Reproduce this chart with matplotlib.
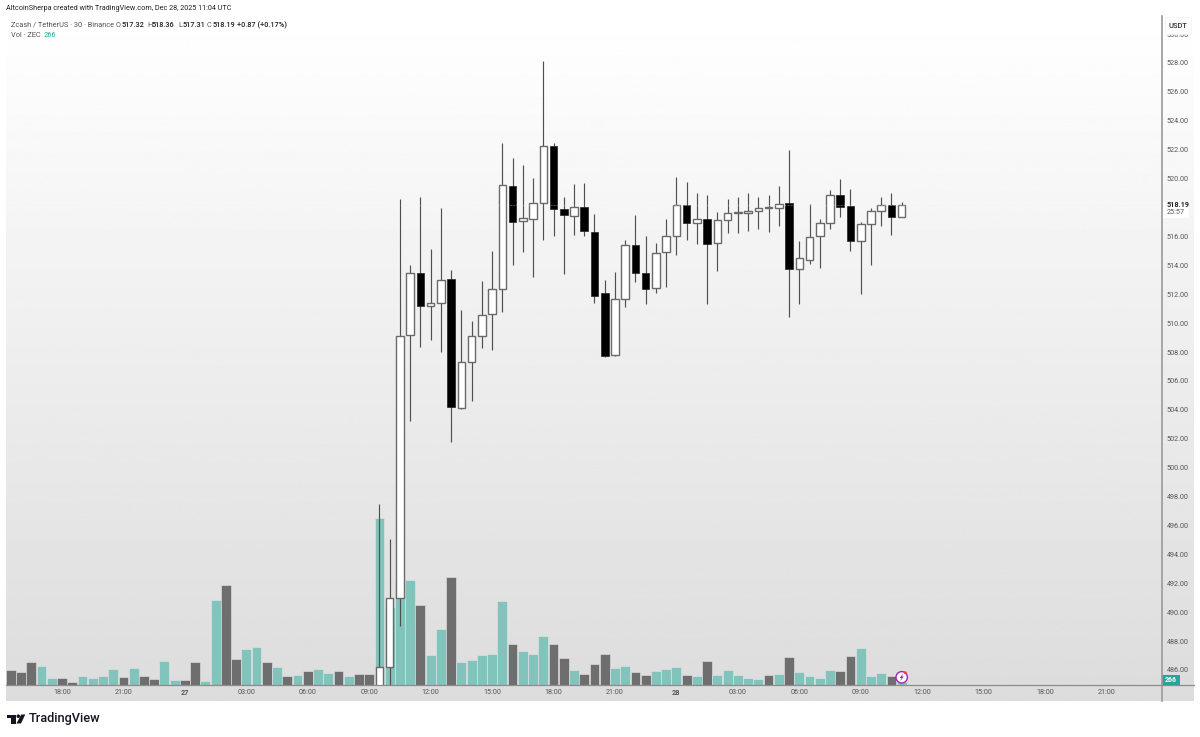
import numpy as np
import matplotlib
matplotlib.use('Agg')
import matplotlib.pyplot as plt
from matplotlib.patches import Circle, Polygon, Rectangle

plt.rcParams['font.family'] = ['Roboto', 'DejaVu Sans']

# first visible candle is bar 36, earlier ones are below the price scale
first_candle = 36
opens = [484.00, 486.21, 490.98, 509.18, 513.47, 511.19, 511.41, 513.07, 504.15, 507.29, 509.09, 510.63, 512.34,
         519.49, 517.07, 517.23, 518.29, 522.24, 517.90, 517.43, 518.06, 516.33, 512.06, 507.80, 511.65, 515.39,
         513.49, 512.40, 514.90, 516.03, 518.17, 516.91, 517.23, 515.52, 517.12, 517.64, 517.64, 517.76, 517.99,
         517.99, 518.31, 513.77, 514.39, 516.03, 516.91, 518.89, 518.11, 515.66, 516.86, 517.78, 518.15, 517.32]
highs = [497.49, 495.06, 518.59, 514.02, 518.73, 515.13, 517.99, 513.68, 510.91, 510.15, 512.89, 514.97, 522.49,
         521.41, 520.92, 520.02, 528.14, 522.49, 518.73, 519.63, 519.72, 517.57, 512.98, 513.56, 515.75, 517.46,
         516.05, 515.52, 517.21, 520.13, 519.75, 519.03, 518.85, 517.69, 518.57, 518.71, 519.03, 518.71, 518.85,
         519.49, 521.98, 515.68, 518.22, 517.18, 519.21, 519.95, 519.26, 517.00, 517.99, 518.71, 518.98, 518.36]
lows = [483.50, 484.50, 489.04, 503.25, 508.35, 508.83, 508.02, 501.78, 504.06, 504.61, 508.30, 508.14, 510.79,
        514.04, 514.90, 513.17, 515.73, 516.05, 513.38, 516.10, 516.05, 511.41, 507.68, 507.75, 511.14, 512.85,
        511.30, 512.11, 512.52, 514.69, 515.75, 515.50, 511.32, 513.63, 516.26, 516.22, 516.40, 516.51, 516.33,
        516.74, 510.40, 511.34, 514.07, 513.79, 516.51, 517.34, 514.99, 512.02, 514.00, 516.72, 516.10, 517.31]
closes = [486.23, 490.98, 509.11, 513.45, 511.19, 511.36, 512.98, 504.18, 507.33, 509.13, 510.58, 512.36, 519.56,
          517.02, 517.27, 518.29, 522.24, 517.88, 517.48, 518.06, 516.35, 511.90, 507.75, 511.69, 515.39, 513.47,
          512.38, 514.87, 516.05, 518.15, 516.91, 517.21, 515.50, 517.16, 517.60, 517.67, 517.78, 517.95, 518.04,
          518.26, 513.77, 514.49, 515.98, 516.91, 518.89, 518.06, 515.66, 516.84, 517.78, 518.15, 517.32, 518.19]

# volume, all 88 bars
volumes = [1350, 1170, 2040, 1710, 660, 600, 270, 810, 600, 810, 1440, 690, 1560, 810, 540, 2160, 450, 480, 2040,
           360, 7680, 8970, 2310, 3270, 3420, 2040, 1620, 810, 870,
           1230, 1440, 1110, 1260, 840, 1020, 960, 15030, 6990, 9300, 9450, 7230, 2730, 5040, 9690, 2070, 2280, 2730,
           2790, 7560, 3690, 3090, 2820, 4410, 3690, 2400, 1380, 1020, 1920,
           2760, 1530, 1680, 1140, 870, 1260, 1410, 1590, 870, 810, 2160, 930, 1350, 930, 660, 540, 870, 990, 2550,
           1140, 780, 660, 1350, 1290, 2640, 3300, 810, 1080, 810, 266]
vol_up = [0, 0, 0, 1, 1, 0, 0, 1, 1, 1, 1, 0, 1, 0, 0, 1, 1, 0, 0, 1, 1, 0, 0, 1, 1, 0, 1, 0, 1,
          0, 1, 1, 0, 1, 0, 0, 1, 1, 1, 1, 0, 1, 1, 0, 1, 1, 1, 1, 1, 0, 1, 1, 1, 0, 0, 1, 0, 0,
          0, 1, 1, 0, 0, 1, 1, 1, 0, 1, 0, 1, 1, 1, 1, 1, 0, 1, 0, 1, 1, 1, 1, 0, 0, 1, 1, 1, 0, 1]

time_ticks = [5, 11, 17, 23, 29, 35, 41, 47, 53, 59, 65, 71, 77, 83, 89, 95, 101, 107]
time_labels = ['18:00', '21:00', '27', '03:00', '06:00', '09:00', '12:00', '15:00', '18:00', '21:00', '28',
               '03:00', '06:00', '09:00', '12:00', '15:00', '18:00', '21:00']
# 518.00 is hidden by the last price tag on the real chart
price_ticks = [p for p in range(486, 532, 2) if p != 518]
last_close = closes[-1]

W, H = 1200, 737
fig = plt.figure(figsize=(W / 100, H / 100), dpi=100, facecolor='white')

# gradient behind the whole pane, scales included
bg = fig.add_axes([6 / W, 1 - 701 / H, (1194 - 6) / W, (701 - 16) / H])
bg.imshow(np.linspace(255, 220, 256).reshape(-1, 1), cmap='gray', vmin=0, vmax=255, aspect='auto')
bg.axis('off')

# price pane: x is the bar number, y the price
rect = [6 / W, 1 - 685 / H, (1162 - 6) / W, (685 - 16) / H]
ax_vol = fig.add_axes(rect)
ax_vol.patch.set_visible(False)
ax_vol.set_xlim(-0.469, 112.42)
ax_vol.set_ylim(0, 60210)
ax_vol.axis('off')
bar_x = np.arange(len(volumes))
vol_colors = ['#82c4bc' if u else '#6e6e6e' for u in vol_up]
ax_vol.bar(bar_x, volumes, width=0.96, color=vol_colors, edgecolor='#e6e6e6', linewidth=0.4)

ax = fig.add_axes(rect)
ax.patch.set_visible(False)
ax.set_xlim(-0.469, 112.42)
ax.set_ylim(484.96, 531.25)

candle_x = first_candle + np.arange(len(opens))
o, h, l, c = map(np.array, (opens, highs, lows, closes))
ax.vlines(candle_x, l, h, color='#505050', linewidth=0.85, zorder=2)
up = c >= o
ax.bar(candle_x[up], (c - o)[up], bottom=o[up], width=0.74, color='white', edgecolor='#6a6a6a', linewidth=1.0, zorder=3)
ax.bar(candle_x[~up], (c - o)[~up], bottom=o[~up], width=0.74, color='black', edgecolor='#222222', linewidth=0.5, zorder=3)
ax.axhline(last_close, color='#f1f1f1', linewidth=0.4, linestyle=':', zorder=4)

for name in ['top', 'left', 'right', 'bottom']:
    ax.spines[name].set_visible(False)

ax.yaxis.tick_right()
ax.set_yticks(price_ticks)
ax.set_yticklabels(['%.2f' % p for p in price_ticks])
ax.set_xticks(time_ticks)
ax.set_xticklabels(time_labels)
ax.tick_params(axis='y', length=0, pad=3.4, labelsize=5.2, labelcolor='#555555')
ax.tick_params(axis='x', length=0, pad=2.6, labelsize=5.2, labelcolor='#555555')
for lab in ax.get_xticklabels():
    if lab.get_text() in ('27', '28'):
        lab.set_fontweight('bold')

# overlay in pixel coordinates for the header, tags and logo
ov = fig.add_axes([0, 0, 1, 1])
ov.set_xlim(0, W)
ov.set_ylim(H, 0)
ov.patch.set_visible(False)
ov.axis('off')


def label(x, y, s, color='#555555', size=5.3, weight='normal', ha='left'):
    ov.text(x, y, s, color=color, fontsize=size, fontweight=weight, ha=ha, va='center')


# pane separators run through both scales
ov.plot([1162, 1162], [16, 701], color='#9a9a9a', linewidth=1.2)
ov.plot([6, 1194], [685, 685], color='#8c8c8c', linewidth=0.9)

label(6, 8.5, 'AltcoinSherpa created with TradingView.com, Dec 28, 2025 11:04 UTC', color='#222222', size=5.25)
label(11, 25, 'Zcash / TetherUS · 30 · Binance')
for x, s, dark in [(116, 'O', 0), (122, '517.32', 1), (147, 'H', 0), (152, '518.36', 1),
                   (178, 'L', 0), (183, '517.31', 1), (207, 'C', 0), (213, '518.19', 1),
                   (237, '+0.87 (+0.17%)', 1)]:
    label(x, 25, s, color='#222222' if dark else '#555555', weight='medium' if dark else 'normal')
label(11, 35, 'Vol · ZEC')
label(44, 35, '266', color='#26a69a')

# unit button sits over the 530.00 tick
ov.add_patch(Rectangle((1165, 17), 26, 16.5, facecolor='#fdfdfd', edgecolor='#f2f2f2', linewidth=0.5, zorder=3))
ov.text(1178, 26, 'USDT', color='#333333', fontsize=5.4, ha='center', va='center', fontweight='medium', zorder=4)

# last price tag
ov.add_patch(Rectangle((1163, 202), 26, 16, facecolor='white', edgecolor='none', zorder=1))
label(1167, 205.2, '518.19', color='#222222', size=5.2, weight='bold')
label(1167, 212.8, '25:57', color='#555555', size=5.2)

# volume tag
ov.add_patch(Rectangle((1162, 675), 18, 9.5, facecolor='#26a69a', edgecolor='none'))
label(1171, 680, '266', color='white', size=5.0, ha='center', weight='bold')

# flash icon on the last bar
ov.add_patch(Circle((901.7, 677.3), 5.7, facecolor='white', edgecolor='#9c27b0', linewidth=1.0, zorder=3))
ov.add_patch(Polygon([(903, 673.5), (899.8, 678), (901.6, 678), (900.4, 681), (903.8, 676.6), (902, 676.6)],
                     facecolor='#9c27b0', edgecolor='none', zorder=4))
ov.add_patch(Circle((905.3, 672.7), 1.4, facecolor='#f23645', edgecolor='none', zorder=5))

# TradingView logo
ov.add_patch(Polygon([(7, 714.5), (16, 714.5), (16, 723.5), (11, 723.5), (11, 718), (7, 718)],
                     facecolor='#131722', edgecolor='none'))
ov.add_patch(Circle((18.3, 716.2), 1.8, facecolor='#131722', edgecolor='none'))
ov.add_patch(Polygon([(21.2, 714.5), (25.3, 714.5), (21, 723.5), (16.5, 723.5)], facecolor='#131722', edgecolor='none'))
label(29, 718.8, 'TradingView', color='#131722', size=9.2, weight='medium')

fig.savefig('out.png', dpi=100)
